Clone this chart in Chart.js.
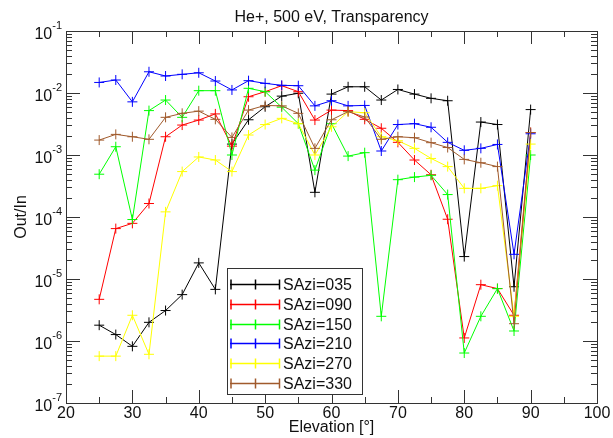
<!DOCTYPE html>
<html>
<head>
<meta charset="utf-8">
<script src="https://cdn.jsdelivr.net/npm/chart.js@4.4.1/dist/chart.umd.min.js"></script>
<style>
  html, body { margin: 0; padding: 0; background: #fff; }
  #wrap { width: 613px; height: 438px; }
</style>
</head>
<body>
<div id="wrap"><canvas id="chart" width="613" height="438"></canvas></div>
<script>
// elevation angles (deg)
const elevations = [25, 27.5, 30, 32.5, 35, 37.5, 40, 42.5, 45, 47.5, 50, 52.5, 55, 57.5,
  60, 62.5, 65, 67.5, 70, 72.5, 75, 77.5, 80, 82.5, 85, 87.5, 90];

const sazi035 = [1.8e-6, 1.27e-6, 8.2e-7, 2.0e-6, 3.1e-6, 5.6e-6, 1.82e-5, 6.8e-6, 1.5e-3, 3.7e-3,
  6.0e-3, 8.9e-3, 9.9e-3, 2.5e-4, 9.6e-3, 1.26e-2, 1.26e-2, 7.7e-3, 1.14e-2, 9.6e-3,
  8.2e-3, 7.5e-3, 2.3e-5, 3.4e-3, 3.1e-3, 7.5e-6, 5.4e-3];
const sazi090 = [4.7e-6, 6.5e-5, 7.9e-5, 1.65e-4, 1.97e-3, 3.04e-3, 3.66e-3, 4.6e-3, 1.39e-3, 8.7e-3,
  1.05e-2, 1.31e-2, 1.05e-2, 3.66e-3, 5.3e-3, 5.2e-3, 3.76e-3, 2.7e-3, 1.6e-3, 8.3e-4,
  4.8e-4, 9.2e-5, 1.12e-6, 8.1e-6, 7.0e-6, 2.6e-6, 2.3e-3];
const sazi150 = [4.9e-4, 1.36e-3, 9.1e-5, 5.2e-3, 7.7e-3, 4.05e-3, 1.09e-2, 1.09e-2, 1.0e-3, 1.19e-2,
  1.05e-2, 5.9e-3, 3.2e-3, 5.7e-4, 3.2e-3, 9.6e-4, 1.09e-3, 2.5e-6, 4.0e-4, 4.4e-4,
  4.7e-4, 2.3e-4, 6.4e-7, 2.5e-6, 7.0e-6, 1.45e-6, 1.0e-3];
const sazi210 = [1.48e-2, 1.62e-2, 7.2e-3, 2.2e-2, 1.88e-2, 2.0e-2, 2.12e-2, 1.56e-2, 1.12e-2, 1.58e-2,
  1.43e-2, 1.33e-2, 1.31e-2, 6.2e-3, 7.5e-3, 6.2e-3, 6.3e-3, 1.16e-3, 3.1e-3, 3.2e-3,
  2.8e-3, 1.6e-3, 1.19e-3, 1.28e-3, 1.48e-3, 2.5e-5, 2.2e-3];
const sazi270 = [5.7e-7, 5.7e-7, 2.6e-6, 6.1e-7, 1.21e-4, 5.4e-4, 9.3e-4, 8.3e-4, 5.4e-4, 2.1e-3,
  3.1e-3, 3.9e-3, 3.2e-3, 1.0e-3, 2.85e-3, 5.0e-3, 4.8e-3, 1.97e-3, 1.7e-3, 1.28e-3,
  8.8e-4, 6.5e-4, 2.9e-4, 2.9e-4, 3.2e-4, 2.5e-6, 1.5e-3];
const sazi330 = [1.74e-3, 2.15e-3, 1.97e-3, 1.79e-3, 4.05e-3, 4.7e-3, 5.1e-3, 3.76e-3, 1.92e-3, 5.3e-3,
  6.3e-3, 6.2e-3, 4.7e-3, 1.28e-3, 3.7e-3, 5.0e-3, 4.1e-3, 1.79e-3, 1.97e-3, 1.9e-3,
  1.58e-3, 1.32e-3, 8.5e-4, 7.5e-4, 6.5e-4, 1.9e-6, 2.3e-3];

const seriesNames = ["SAzi=035", "SAzi=090", "SAzi=150", "SAzi=210", "SAzi=270", "SAzi=330"];
const seriesColors = ["#000000", "#ff0000", "#00ff00", "#0000ff", "#ffff00", "#a05a2c"];
const seriesValues = [sazi035, sazi090, sazi150, sazi210, sazi270, sazi330];

const xTicks = [20, 30, 40, 50, 60, 70, 80, 90, 100];
const yExponents = [-1, -2, -3, -4, -5, -6, -7];

const FONT = "'Liberation Sans', Arial, sans-serif";

// draws the frame, inward ticks, labels and the legend box
const decorations = {
  id: "decorations",
  afterDraw(chart) {
    const ctx = chart.ctx;
    const a = chart.chartArea;
    const xs = chart.scales.x;
    const ys = chart.scales.y;
    ctx.save();
    ctx.strokeStyle = "#333";
    ctx.lineWidth = 1;
    ctx.strokeRect(Math.round(a.left) + 0.5, Math.round(a.top) + 0.5,
      Math.round(a.right - a.left), Math.round(a.bottom - a.top));

    // x ticks (major every 10, minor every 5)
    ctx.beginPath();
    for (let v = 20; v <= 100; v += 5) {
      const px = Math.round(xs.getPixelForValue(v)) + 0.5;
      const len = v % 10 === 0 ? 13 : 6;
      ctx.moveTo(px, a.bottom); ctx.lineTo(px, a.bottom - len);
      ctx.moveTo(px, a.top); ctx.lineTo(px, a.top + len);
    }
    // y ticks (log)
    for (let e = -7; e <= -1; e++) {
      for (let m = 1; m <= 9; m++) {
        const v = m * Math.pow(10, e);
        if (v > 0.1 + 1e-12) break;
        const py = Math.round(ys.getPixelForValue(v)) + 0.5;
        const len = m === 1 ? 14 : 6;
        ctx.moveTo(a.left, py); ctx.lineTo(a.left + len, py);
        ctx.moveTo(a.right, py); ctx.lineTo(a.right - len, py);
      }
    }
    ctx.stroke();

    // x tick labels
    ctx.fillStyle = "#111";
    ctx.font = "16px " + FONT;
    ctx.textAlign = "center";
    ctx.textBaseline = "middle";
    xTicks.forEach(v => ctx.fillText(String(v), xs.getPixelForValue(v), 414));

    // y tick labels 10^e
    yExponents.forEach(e => {
      const py = ys.getPixelForValue(Math.pow(10, e));
      ctx.font = "11px " + FONT;
      ctx.textAlign = "left";
      const sup = String(e);
      const supW = ctx.measureText(sup).width;
      ctx.font = "16px " + FONT;
      const baseW = ctx.measureText("10").width;
      const right = a.left - 4;
      ctx.fillText("10", right - supW - baseW, py + 4);
      ctx.font = "11px " + FONT;
      ctx.fillText(sup, right - supW, py - 5);
    });

    // titles
    ctx.font = "16px " + FONT;
    ctx.textAlign = "center";
    ctx.fillText("He+, 500 eV, Transparency", (a.left + a.right) / 2, 18);
    ctx.fillText("Elevation [\u00b0]", (a.left + a.right) / 2, 428);
    ctx.save();
    ctx.translate(22, (a.top + a.bottom) / 2);
    ctx.rotate(-Math.PI / 2);
    ctx.fillText("Out/In", 0, 0);
    ctx.restore();

    // legend
    const lx = 227.5, ly = 268.5, lw = 135, lh = 126;
    ctx.fillStyle = "#fff";
    ctx.fillRect(lx, ly, lw, lh);
    ctx.strokeStyle = "#333";
    ctx.strokeRect(lx, ly, lw, lh);
    chart.data.datasets.forEach((ds, i) => {
      const ry = Math.round(284 + i * 19.8) + 0.5;
      ctx.strokeStyle = ds.borderColor;
      ctx.lineWidth = 1.5;
      ctx.beginPath();
      ctx.moveTo(230, ry); ctx.lineTo(280, ry);
      [231, 255.5, 279.5].forEach(mx => {
        ctx.moveTo(mx, ry - 5); ctx.lineTo(mx, ry + 5);
      });
      ctx.stroke();
      ctx.fillStyle = "#111";
      ctx.font = "16px " + FONT;
      ctx.textAlign = "left";
      ctx.fillText(ds.label, 283, ry + 1);
    });
    ctx.restore();
  }
};

const datasets = seriesNames.map((name, i) => ({
  label: name,
  data: elevations.map((x, j) => ({ x: x, y: seriesValues[i][j] })),
  borderColor: seriesColors[i],
  backgroundColor: seriesColors[i],
  borderWidth: 1,
  pointStyle: "cross",
  pointRadius: 5,
  pointBorderWidth: 1,
  pointHoverRadius: 5,
  order: seriesNames.length - i,
  tension: 0,
}));

new Chart(document.getElementById("chart"), {
  type: "line",
  data: { datasets },
  options: {
    responsive: false,
    animation: false,
    devicePixelRatio: 1,
    layout: { padding: { left: 66, right: 16, top: 31, bottom: 35 } },
    plugins: { legend: { display: false }, tooltip: { enabled: false }, title: { display: false } },
    scales: {
      x: { type: "linear", min: 20, max: 100, display: false },
      y: { type: "logarithmic", min: 1e-7, max: 1e-1, display: false },
    },
  },
  plugins: [decorations],
});
</script>
</body>
</html>
